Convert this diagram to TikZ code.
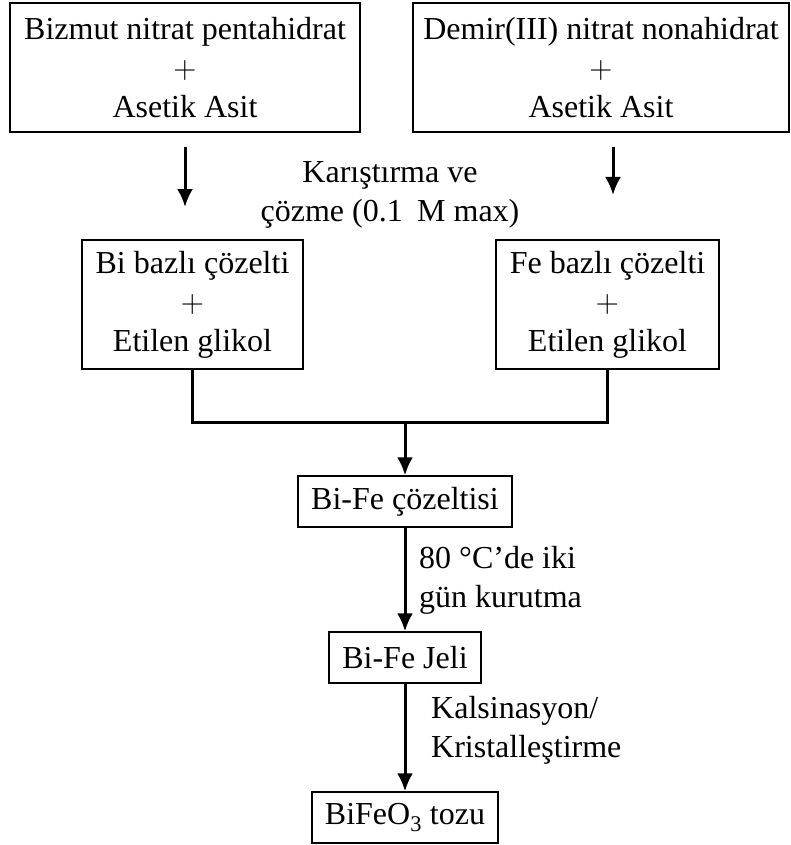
\documentclass[tikz,border=0pt]{standalone}
\usepackage{fontspec}
\setmainfont{Liberation Serif}
\newfontfamily\lmplus{Latin Modern Roman}
\usepackage{tikz}
\usetikzlibrary{arrows.meta,calc,positioning}
\tikzset{>=Latex}
\tikzset{
  box/.style={draw, line width=1.3pt, inner sep=0pt, align=center, font=\fontsize{32}{39}\selectfont},
  lbl/.style={inner sep=0pt, font=\fontsize{32}{39}\selectfont},
  arrow/.style={-{Latex[length=18pt,width=16pt]}, line width=3pt},
  link/.style={line width=3pt},
}
\newcommand{\plus}{{\lmplus +}}

\begin{document}
\begin{tikzpicture}[x=1pt, y=-1pt]
\useasboundingbox (0,0) rectangle (791,845);

% starting materials
\node[box, minimum width=350pt, minimum height=129pt] (bi) at (185,67.5)
{Bizmut nitrat pentahidrat\\\plus\\Asetik Asit};
\node[box, minimum width=376pt, minimum height=129pt] (fe) at (601,67.5)
{Demir(III) nitrat nonahidrat\\\plus\\Asetik Asit};

% mixing step (free arrows)
\coordinate (bitop) at (185,147);
\coordinate (bibot) at (185,207);
\coordinate (fetop) at (613,147);
\coordinate (febot) at (613,195);
\draw[arrow] (bitop) -- (bibot);
\draw[arrow] (fetop) -- (febot);
\node[lbl, align=center] (mix) at (390,195) {Karıştırma ve\\çözme (0.1\hspace{0.2em} M max)};

% solutions
\node[box, minimum width=221pt, minimum height=129pt] (bisol) at (192.5,304.5)
{Bi bazlı çözelti\\\plus\\Etilen glikol};
\node[box, minimum width=223pt, minimum height=129pt] (fesol) at (607.5,304.5)
{Fe bazlı çözelti\\\plus\\Etilen glikol};

% merge
\coordinate (bjoin) at (bisol.south |- 0,422);
\coordinate (fjoin) at (fesol.south |- 0,422);
\coordinate (mjoin) at (405,422);
\draw[link] (bisol.south) -- (bjoin) -- (fjoin) -- (fesol.south);

% main column
\node[box, minimum width=214pt, minimum height=51pt] (bife) at (405,501.5) {Bi-Fe çözeltisi};
\node[box, minimum width=152pt, minimum height=51pt] (jel) at (405,657.5) {Bi-Fe Jeli};
\node[box, minimum width=186pt, minimum height=51pt] (toz) at (405,817.5) {BiFeO\textsubscript{3} tozu};

\draw[arrow] (mjoin) -- (bife.north);
\draw[arrow] (bife.south) -- (jel.north);
\draw[arrow] (jel.south) -- (toz.north);

\node[lbl, align=left, anchor=west] (dry) at (419,580) {80 °C’de iki\\gün kurutma};
\node[lbl, align=left, anchor=west] (calc) at (431,730) {Kalsinasyon/\\Kristalleştirme};

\end{tikzpicture}
\end{document}
